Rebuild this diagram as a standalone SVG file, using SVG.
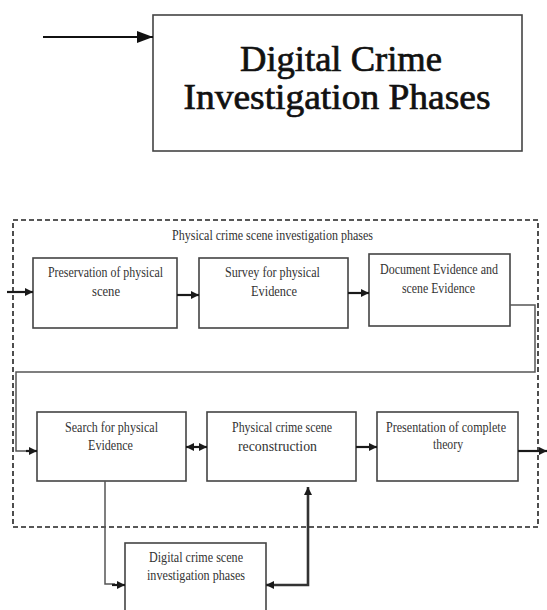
<svg xmlns="http://www.w3.org/2000/svg" width="547" height="610" viewBox="0 0 547 610">
  <defs>
    <marker id="arrow" viewBox="0 0 8 8" refX="8" refY="4" markerWidth="8" markerHeight="8" markerUnits="userSpaceOnUse" orient="auto-start-reverse">
      <path d="M0,0 L8,4 L0,8 Z" fill="#1a1a1a"/>
    </marker>
    <marker id="bigArrow" viewBox="0 0 16 12" refX="16" refY="6" markerWidth="16" markerHeight="12" markerUnits="userSpaceOnUse" orient="auto">
      <path d="M0,0 L16,6 L0,12 Z" fill="#111"/>
    </marker>
  </defs>
  <style>
    .box { fill: #ffffff; stroke: #444; stroke-width: 1.6; }
    .title { font-family: "Liberation Serif", "Times New Roman", serif; font-size: 36px; fill: #111; stroke: #111; stroke-width: 0.7; text-anchor: middle; }
    .lbl { font-family: "Liberation Serif", "Times New Roman", serif; font-size: 14px; fill: #333; text-anchor: middle; }
    .flow { fill: none; stroke: #1a1a1a; stroke-width: 2.2; }
    .thin { fill: none; stroke: #555; stroke-width: 1.5; }
    .frame { fill: none; stroke: #222; stroke-width: 1.6; stroke-dasharray: 5 3; }
  </style>

  <rect width="547" height="610" fill="#ffffff"/>

  <!-- heading block -->
  <g id="heading">
    <rect class="box" x="153" y="15" width="369" height="136" stroke="#333" stroke-width="2"/>
    <text class="title" x="341" y="71" textLength="202" lengthAdjust="spacingAndGlyphs">Digital Crime</text>
    <text class="title" x="337" y="109" textLength="307" lengthAdjust="spacingAndGlyphs">Investigation Phases</text>
  </g>

  <!-- dashed frame around the physical phases -->
  <g id="physical-frame">
    <rect class="frame" x="13" y="220" width="525" height="307"/>
    <text class="lbl" x="272.5" y="240" textLength="201" lengthAdjust="spacingAndGlyphs">Physical crime scene investigation phases</text>
  </g>

  <g id="preservation">
    <rect class="box" x="33" y="258" width="144" height="70"/>
    <text class="lbl" x="105.5" y="277" textLength="115" lengthAdjust="spacingAndGlyphs">Preservation of physical</text>
    <text class="lbl" x="106" y="296" textLength="28" lengthAdjust="spacingAndGlyphs">scene</text>
  </g>

  <g id="survey">
    <rect class="box" x="199" y="258" width="149" height="70"/>
    <text class="lbl" x="272.5" y="277" textLength="95" lengthAdjust="spacingAndGlyphs">Survey for physical</text>
    <text class="lbl" x="274" y="296" textLength="46" lengthAdjust="spacingAndGlyphs">Evidence</text>
  </g>

  <g id="document">
    <rect class="box" x="369" y="254" width="141" height="72"/>
    <text class="lbl" x="439" y="274" textLength="118" lengthAdjust="spacingAndGlyphs">Document Evidence and</text>
    <text class="lbl" x="438.5" y="293" textLength="73" lengthAdjust="spacingAndGlyphs">scene Evidence</text>
  </g>

  <g id="search">
    <rect class="box" x="37" y="412" width="149" height="69"/>
    <text class="lbl" x="111.5" y="432" textLength="93" lengthAdjust="spacingAndGlyphs">Search for physical</text>
    <text class="lbl" x="110.5" y="450" textLength="45" lengthAdjust="spacingAndGlyphs">Evidence</text>
  </g>

  <g id="reconstruction">
    <rect class="box" x="207" y="412" width="149" height="69"/>
    <text class="lbl" x="282" y="432" textLength="100" lengthAdjust="spacingAndGlyphs">Physical crime scene</text>
    <text class="lbl" x="277.5" y="451" textLength="79" lengthAdjust="spacingAndGlyphs">reconstruction</text>
  </g>

  <g id="presentation">
    <rect class="box" x="377" y="412" width="141" height="69"/>
    <text class="lbl" x="446" y="432" textLength="120" lengthAdjust="spacingAndGlyphs">Presentation of complete</text>
    <text class="lbl" x="448" y="449" textLength="30" lengthAdjust="spacingAndGlyphs">theory</text>
  </g>

  <g id="digital">
    <rect class="box" x="125" y="543" width="141" height="80"/>
    <text class="lbl" x="196" y="562" textLength="94" lengthAdjust="spacingAndGlyphs">Digital crime scene</text>
    <text class="lbl" x="196" y="580" textLength="98" lengthAdjust="spacingAndGlyphs">investigation phases</text>
  </g>

  <g id="connectors">
    <!-- into the heading block -->
    <line x1="43" y1="37" x2="153" y2="37" stroke="#111" stroke-width="2.2" marker-end="url(#bigArrow)"/>
    <!-- first row -->
    <line class="flow" x1="7" y1="292" x2="33" y2="292" marker-end="url(#arrow)"/>
    <line class="flow" x1="177" y1="295" x2="199" y2="295" marker-end="url(#arrow)"/>
    <line class="flow" x1="348" y1="293" x2="369" y2="293" marker-end="url(#arrow)"/>
    <!-- wrap to second row -->
    <polyline class="thin" points="510,305 535,305 535,372 16,372 16,451 28,451"/>
    <line class="flow" x1="26" y1="451" x2="37" y2="451" marker-end="url(#arrow)"/>
    <!-- second row -->
    <line class="flow" x1="186" y1="447" x2="207" y2="447" marker-start="url(#arrow)" marker-end="url(#arrow)"/>
    <line class="flow" x1="356" y1="447" x2="377" y2="447" marker-end="url(#arrow)"/>
    <line class="flow" x1="518" y1="451" x2="547" y2="451" marker-end="url(#arrow)"/>
    <!-- search to digital phases -->
    <polyline class="thin" points="105,481 105,584 115,584"/>
    <line class="flow" x1="112" y1="585" x2="125" y2="585" marker-end="url(#arrow)"/>
    <!-- digital phases back to reconstruction -->
    <polyline fill="none" stroke="#333" stroke-width="2.6" points="266,585 308,585 308,487" marker-start="url(#arrow)" marker-end="url(#arrow)"/>
  </g>
</svg>
